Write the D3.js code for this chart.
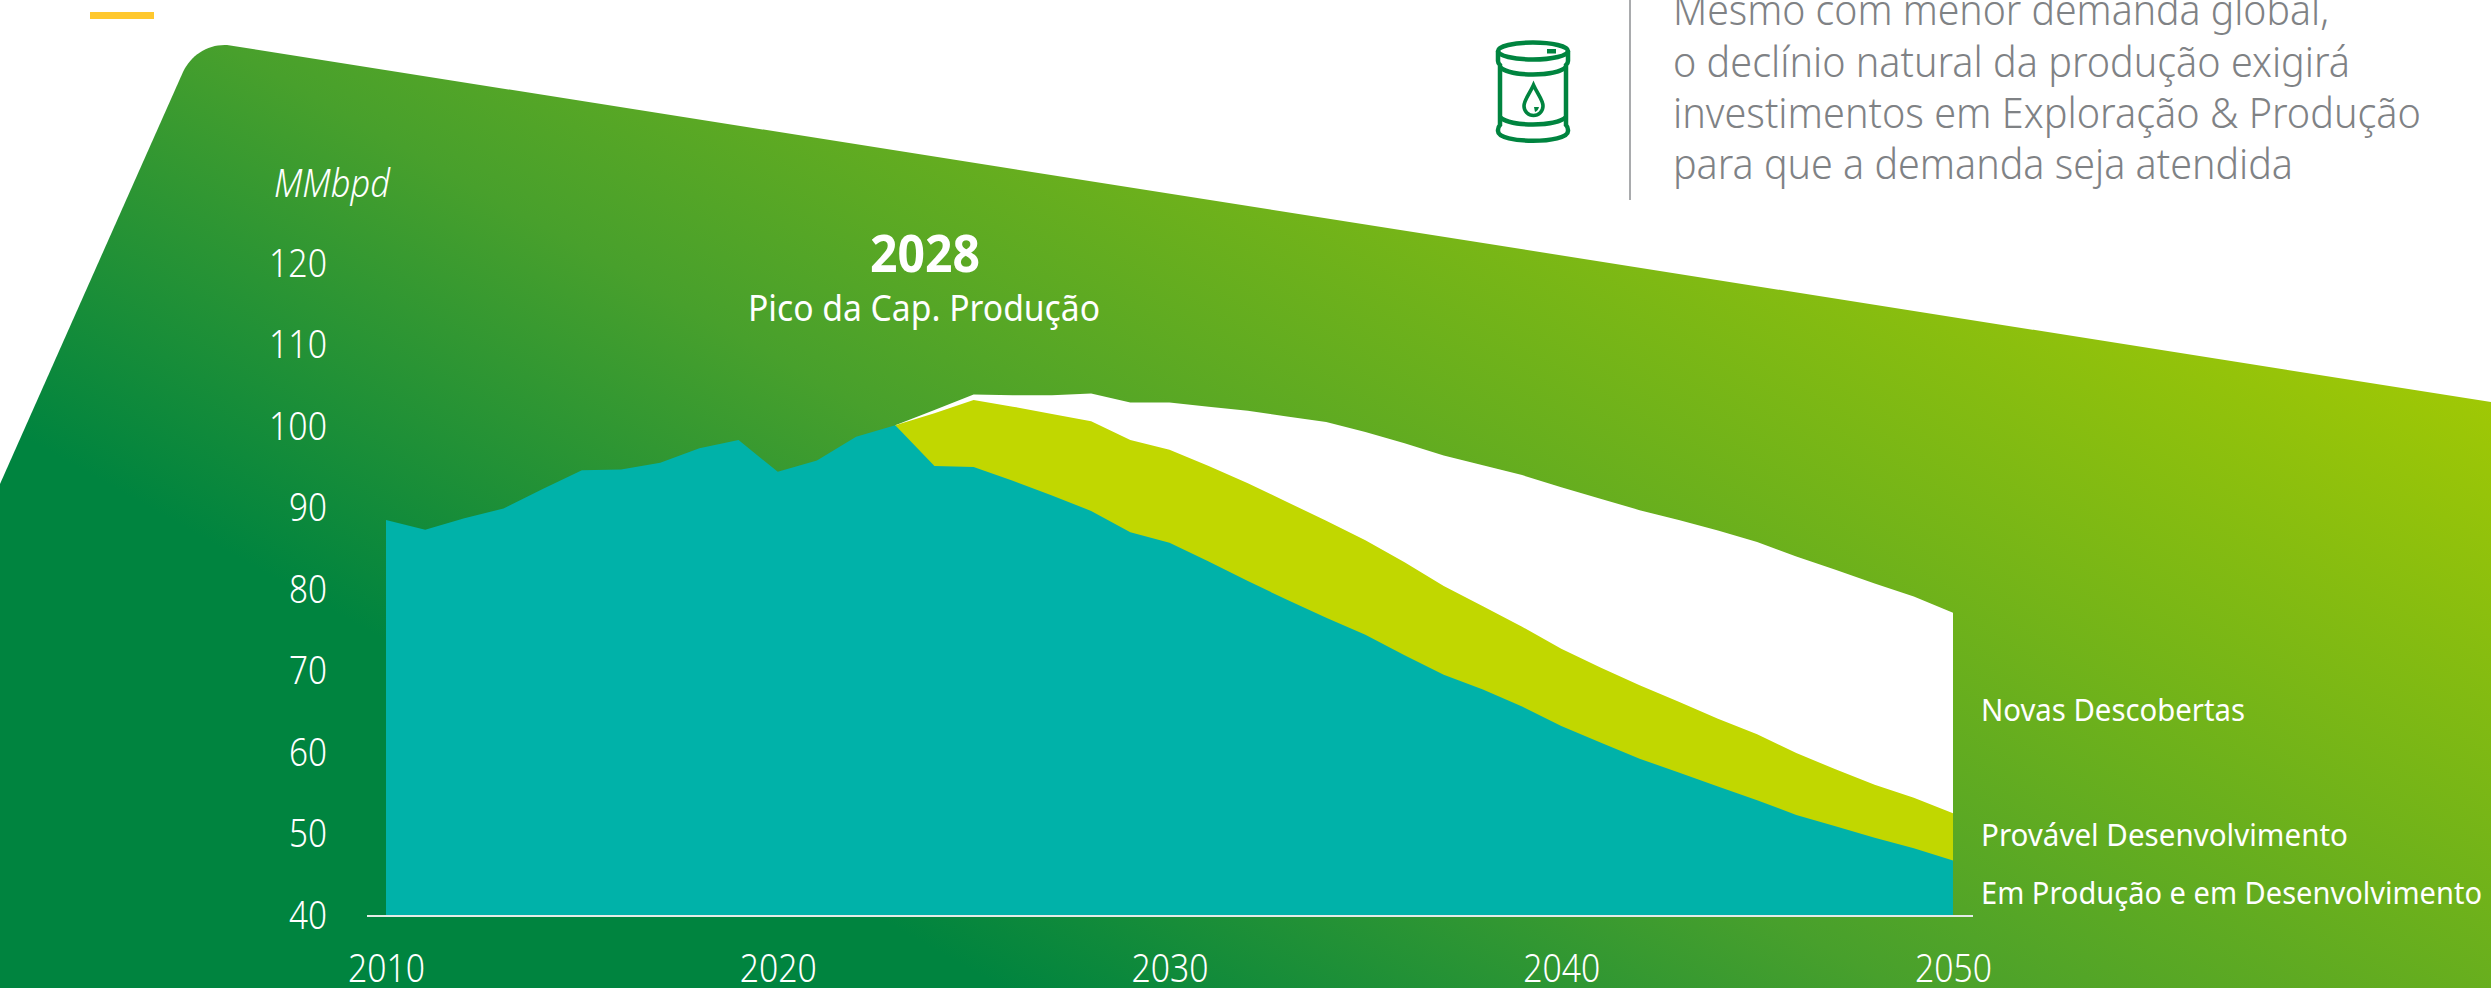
<!DOCTYPE html>
<html><head><meta charset="utf-8">
<script src="https://cdn.jsdelivr.net/npm/d3@7"></script>
<style>html,body{margin:0;padding:0;background:#fff;overflow:hidden}svg{display:block}
text{font-family:"Noto Sans",sans-serif;font-weight:300}</style></head>
<body><script>
const years = d3.range(2010, 2051);
const xTickValues = [2010, 2020, 2030, 2040, 2050];
const yTickValues = [40, 50, 60, 70, 80, 90, 100, 110, 120];
const emProducao = [88.6,87.4,88.8,90.0,92.4,94.7,94.8,95.6,97.4,98.4,94.5,95.9,98.8,100.2,95.2,95.1,93.4,91.6,89.7,87.1,85.8,83.5,81.1,78.8,76.6,74.5,72.0,69.6,67.8,65.7,63.3,61.3,59.3,57.6,55.9,54.2,52.4,51.0,49.6,48.3,46.8];
const provavelYears = d3.range(2023, 2051);
const provavelTopo = [100.2,101.7,103.3,102.5,101.6,100.7,98.4,97.2,95.2,93.1,90.8,88.5,86.1,83.4,80.5,78.0,75.5,72.8,70.5,68.3,66.3,64.2,62.3,60.0,58.0,56.1,54.5,52.6];
const novasTopo = [100.2,102.1,104.0,103.9,103.9,104.1,103.0,103.0,102.5,102.0,101.3,100.6,99.4,98.0,96.5,95.3,94.1,92.6,91.2,89.8,88.6,87.3,85.9,84.1,82.5,80.8,79.2,77.2];
const seriesLabels = ["Novas Descobertas","Provável Desenvolvimento","Em Produção e em Desenvolvimento"];
const noteLines = ["Mesmo com menor demanda global,","o declínio natural da produção exigirá","investimentos em Exploração & Produção","para que a demanda seja atendida"];

const W = 2491, H = 988;
const svg = d3.select("body").append("svg").attr("width", W).attr("height", H);

const defs = svg.append("defs");
const grad = defs.append("linearGradient").attr("id","bg").attr("gradientUnits","userSpaceOnUse")
  .attr("x1",-181).attr("y1",322).attr("x2",426).attr("y2",-757);
[[0,"#00843f"],[0.355,"#48a02c"],[1,"#9fc805"]].forEach(s=>grad.append("stop").attr("offset",s[0]).attr("stop-color",s[1]));

svg.append("path").attr("fill","url(#bg)")
  .attr("d",`M0,${H} L0,484 L183,72 C191,55 208,44 227,45 L${W},402 L${W},${H} Z`);
svg.append("rect").attr("x",90).attr("y",12).attr("width",64).attr("height",7).attr("fill","#ffc82e");

const x = d3.scaleLinear().domain([2010,2050]).range([386,1953]);
const y = d3.scaleLinear().domain([40,120]).range([916,264]);

const area = d3.area().x(d=>x(d[0])).y0(y(40)).y1(d=>y(d[1]));
svg.append("path").attr("fill","#ffffff").attr("d",area(d3.zip(provavelYears,novasTopo)));
svg.append("path").attr("fill","#c1d700").attr("d",area(d3.zip(provavelYears,provavelTopo)));
svg.append("path").attr("fill","#00b2a9").attr("d",area(d3.zip(years,emProducao)));

svg.append("rect").attr("x",367).attr("y",915).attr("width",1606).attr("height",2).attr("fill","#e4ebe6");

const ax = d3.axisBottom(x).tickValues(xTickValues).tickFormat(d3.format("d")).tickSize(0);
const gx = svg.append("g").attr("transform",`translate(0,${y(40)})`).call(ax);
gx.select(".domain").remove();
gx.selectAll("text").attr("y",0).attr("dy",66).attr("fill","#fff")
  .style("font-size","38px").style("font-family",'"Noto Sans",sans-serif')
  .attr("textLength",77).attr("lengthAdjust","spacingAndGlyphs");

const ay = d3.axisLeft(y).tickValues(yTickValues).tickSize(0);
const gy = svg.append("g").attr("transform","translate(327,0)").call(ay);
gy.select(".domain").remove();
gy.selectAll("text").attr("x",0).attr("dy",12).attr("fill","#fff")
  .style("font-size","38px").style("font-family",'"Noto Sans",sans-serif')
  .attr("textLength",d=>d>=100?58:38).attr("lengthAdjust","spacingAndGlyphs");

function label(txt,xp,yp,size,width,fill,extra){
  const t = svg.append("text").attr("x",xp).attr("y",yp).attr("fill",fill).style("font-size",size+"px")
    .attr("textLength",width).attr("lengthAdjust","spacingAndGlyphs").text(txt);
  if(extra) extra(t);
  return t;
}
label("MMbpd",274,197,38,116,"#fff",t=>t.style("font-style","italic"));
label("2028",870,272,52,110,"#fff",t=>t.style("font-weight",700));
label("Pico da Cap. Produção",748,320.5,37,352,"#fff",t=>t.style("font-weight",400));

const labelY=[720.7,846,904], labelW=[264,367,501];
seriesLabels.forEach((s,i)=>label(s,1981,labelY[i],31,labelW[i],"#fff",t=>t.style("font-weight",400)));

svg.append("rect").attr("x",1629).attr("y",0).attr("width",2).attr("height",200).attr("fill","#a9abad");
const noteY=[25,77,128,179], noteW=[656,677,748,620];
noteLines.forEach((s,i)=>label(s,1673,noteY[i],42,noteW[i],"#7f8285"));

// barrel icon
const ic = svg.append("g").attr("fill","none").attr("stroke","#00843f").attr("stroke-width",4.5);
ic.append("ellipse").attr("cx",1533).attr("cy",51).attr("rx",35).attr("ry",8.5);
ic.append("path").attr("d","M1498,51 V61 Q1498,63 1500,65 V125 Q1498,127 1498,130 V131 C1498,144 1568,144 1568,131 V130 Q1568,127 1566,125 V65 Q1568,63 1568,61 V51");
ic.append("path").attr("d","M1500,67 C1510,77 1556,77 1566,67 M1500,117 C1510,127 1556,127 1566,117");
ic.append("path").attr("d","M1533.5,85 C1529,95 1524,100 1524,106 A9.5,9.5 0 0 0 1543,106 C1543,100 1538,95 1533.5,85 Z").attr("stroke-width",3.6);
svg.append("rect").attr("x",1547).attr("y",49).attr("width",9).attr("height",4.5).attr("fill","#00843f");
svg.append("path").attr("d","M1534,107 h5 q-1,4 -4,5 Z").attr("fill","#00843f");
</script></body></html>
